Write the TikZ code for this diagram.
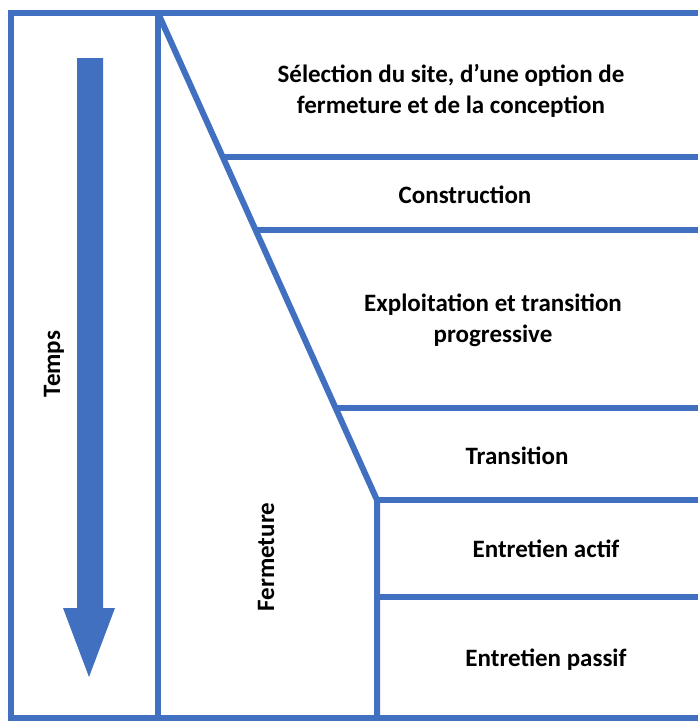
\documentclass[tikz,border=0pt]{standalone}
\usepackage{fontspec}
\setmainfont{Carlito}
\begin{document}
\begin{tikzpicture}[x=1pt,y=-1pt,
  frameline/.style={draw=phaseblue,line width=6pt},
  phase/.style={font=\bfseries\fontsize{25}{31}\selectfont,align=center,inner sep=0pt},
  sidelabel/.style={font=\bfseries\fontsize{25}{28}\selectfont,rotate=90,inner sep=0pt}]
\definecolor{phaseblue}{RGB}{66,112,192}
\useasboundingbox (0,0) rectangle (697,721);

% outer frame and column divider
\coordinate (tl) at (11,13);
\coordinate (tr) at (700,13);
\coordinate (bl) at (11,718);
\coordinate (br) at (700,718);
\coordinate (dtop) at (158,13);
\coordinate (dbot) at (158,718);
\draw[frameline,line cap=rect] (tr) -- (tl) -- (bl) -- (br);
\draw[frameline] (dtop) -- (dbot);

% sloped edge of the closure column and the step below it
\coordinate (knee) at (377,500);
\coordinate (kbot) at (377,718);
\draw[frameline,line join=miter] (dtop) -- (knee) -- (kbot);

% phase boundaries
\coordinate (h1) at (222.2,157);  \coordinate (h1r) at (700,157);
\coordinate (h2) at (254.9,230);  \coordinate (h2r) at (700,230);
\coordinate (h3) at (335.6,408);  \coordinate (h3r) at (700,408);
\coordinate (h4r) at (700,500);
\coordinate (h5) at (377,597);    \coordinate (h5r) at (700,597);
\draw[frameline] (h1) -- (h1r);
\draw[frameline] (h2) -- (h2r);
\draw[frameline] (h3) -- (h3r);
\draw[frameline] (knee) -- (h4r);
\draw[frameline] (h5) -- (h5r);

% time arrow
\fill[phaseblue] (77,58) -- (103,58) -- (103,608) -- (115,608) -- (89,677)
  -- (63,608) -- (77,608) -- cycle;

% labels
\node[phase] (p1) at (451,91) {Sélection du site, d’une option de\\fermeture et de la conception};
\node[phase] (p2) at (465,195) {Construction};
\node[phase] (p3) at (493,320) {Exploitation et transition\\progressive};
\node[phase] (p4) at (517,456) {Transition};
\node[phase] (p5) at (546,549) {Entretien actif};
\node[phase] (p6) at (546,660) {Entretien passif};
\node[sidelabel] (temps) at (54,364) {Temps};
\node[sidelabel] (ferm) at (266,557) {Fermeture};
\end{tikzpicture}
\end{document}
